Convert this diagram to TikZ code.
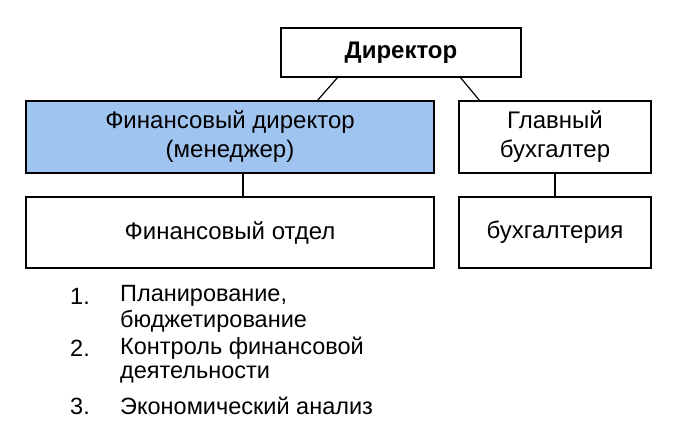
\documentclass[tikz,border=0pt]{standalone}
\usepackage{fontspec}
\setmainfont{Liberation Sans}
\begin{document}
\begin{tikzpicture}[x=1pt,y=-1pt,
 bx/.style={draw=black,line width=1.5pt,inner sep=0pt,align=center,font=\fontsize{24}{29}\selectfont},
 ln/.style={line width=1.2pt},
 li/.style={anchor=west,inner sep=0pt,font=\fontsize{23.5}{28}\selectfont}]
\useasboundingbox (0,0) rectangle (680,430);
\node[bx,minimum width=240,minimum height=49] (dir) at (401,52.5) {\fontsize{24}{29}\selectfont\bfseries Директор};
\node[bx,fill={rgb,255:red,160;green,196;blue,240},minimum width=408,minimum height=72] (fd) at (230,137) {Финансовый директор\\(менеджер)};
\node[bx,minimum width=192,minimum height=72] (gb) at (555,137) {Главный\\бухгалтер};
\node[bx,minimum width=408,minimum height=71] (fo) at (230,232.5) {Финансовый отдел};
\node[bx,minimum width=192,minimum height=71] (bu) at (555,232.5) {бухгалтерия};
\coordinate (d1) at (338,77); \coordinate (f1) at (317,101);
\coordinate (d2) at (460,77); \coordinate (g1) at (480,101);
\draw[ln] (d1) -- (f1);
\draw[ln] (d2) -- (g1);
\draw[ln] (fd.south -| 243,0) -- (fo.north -| 243,0);
\draw[ln] (gb.south) -- (bu.north);
\node[li] (n1) at (70,296) {1.}; \node[li] (t1) at (120,296) {Планирование,};
\node[li] (t1b) at (120,321) {бюджетирование};
\node[li] (n2) at (70,348) {2.}; \node[li] (t2) at (120,348) {Контроль финансовой};
\node[li] (t2b) at (120,375) {деятельности};
\node[li] (n3) at (70,406) {3.}; \node[li] (t3) at (120,406) {Экономический анализ};
\end{tikzpicture}
\end{document}
